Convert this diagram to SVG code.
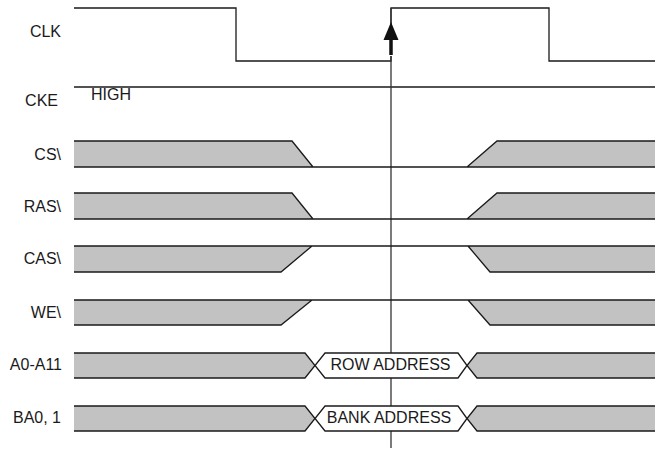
<svg xmlns="http://www.w3.org/2000/svg" width="661" height="449" viewBox="0 0 661 449">
<style>
  .lbl{font-family:"Liberation Sans",Arial,sans-serif;font-size:16px;fill:#1a1a1a;text-anchor:end}
  .txt{font-family:"Liberation Sans",Arial,sans-serif;font-size:16px;fill:#1a1a1a}
  .mid{text-anchor:middle}
  .sh{fill:#c2c2c2;stroke:none}
  .ln{fill:none;stroke:#1a1a1a;stroke-width:1.3}
  .box{fill:#ffffff;stroke:#1a1a1a;stroke-width:1.3}
</style>
<rect width="661" height="449" fill="#ffffff"/>
<g id="labels">
  <text class="lbl" x="61" y="37">CLK</text>
  <text class="lbl" x="58" y="106">CKE</text>
  <text class="lbl" x="61" y="160">CS\</text>
  <text class="lbl" x="61" y="212">RAS\</text>
  <text class="lbl" x="61" y="264">CAS\</text>
  <text class="lbl" x="61" y="318">WE\</text>
  <text class="lbl" x="62" y="370">A0-A11</text>
  <text class="lbl" x="61" y="423">BA0, 1</text>
</g>
<g id="clk">
  <path class="ln" d="M74,8 H236 V61 H391 V8 H549 V61 H655"/>
</g>
<g id="cke">
  <path class="ln" d="M74,87 H655"/>
  <text class="txt" x="91" y="100">HIGH</text>
</g>
<g id="connectors">
  <path d="M391,8 V448" fill="none" stroke="#333333" stroke-width="1.3"/>
</g>
<g id="cs">
  <polygon class="sh" points="74,141 292,141 313,167 74,167"/>
  <polygon class="sh" points="467,167 497,141 655,141 655,167"/>
  <path class="ln" d="M74,141 H292 L313,167 M74,167 H655 M467,167 L497,141 H655"/>
</g>
<g id="ras">
  <polygon class="sh" points="74,193 292,193 313,219 74,219"/>
  <polygon class="sh" points="467,219 497,193 655,193 655,219"/>
  <path class="ln" d="M74,193 H292 L313,219 M74,219 H655 M467,219 L497,193 H655"/>
</g>
<g id="cas">
  <polygon class="sh" points="74,246 312,246 281,272 74,272"/>
  <polygon class="sh" points="468,246 655,246 655,272 490,272"/>
  <path class="ln" d="M74,246 H655 M312,246 L281,272 H74 M468,246 L490,272 H655"/>
</g>
<g id="we">
  <polygon class="sh" points="74,300 312,300 281,325 74,325"/>
  <polygon class="sh" points="468,300 655,300 655,325 490,325"/>
  <path class="ln" d="M74,300 H655 M312,300 L281,325 H74 M468,300 L490,325 H655"/>
</g>
<g id="addr">
  <polygon class="sh" points="74,353 305,353 315,365.5 305,378 74,378"/>
  <polygon class="sh" points="477,353 655,353 655,378 477,378 467,365.5"/>
  <path class="ln" d="M74,353 H305 L315,365.5 L305,378 H74 M655,353 H477 L467,365.5 L477,378 H655"/>
  <polygon class="box" points="325,353 458,353 467,365.5 458,378 325,378 315,365.5"/>
  <text class="txt mid" x="390.5" y="370">ROW ADDRESS</text>
</g>
<g id="bank">
  <polygon class="sh" points="74,406 305,406 315,418.5 305,431 74,431"/>
  <polygon class="sh" points="477,406 655,406 655,431 477,431 467,418.5"/>
  <path class="ln" d="M74,406 H305 L315,418.5 L305,431 H74 M655,406 H477 L467,418.5 L477,431 H655"/>
  <polygon class="box" points="325,406 458,406 467,418.5 458,431 325,431 315,418.5"/>
  <text class="txt mid" x="389" y="423">BANK ADDRESS</text>
</g>
<g id="arrow">
  <path d="M391,38 V56" stroke="#ffffff" stroke-width="6" fill="none"/>
  <path d="M391,38 V55" stroke="#111111" stroke-width="3.5" fill="none"/>
  <polygon points="391,22 398.5,40 383.5,40" fill="#111111"/>
</g>
</svg>
